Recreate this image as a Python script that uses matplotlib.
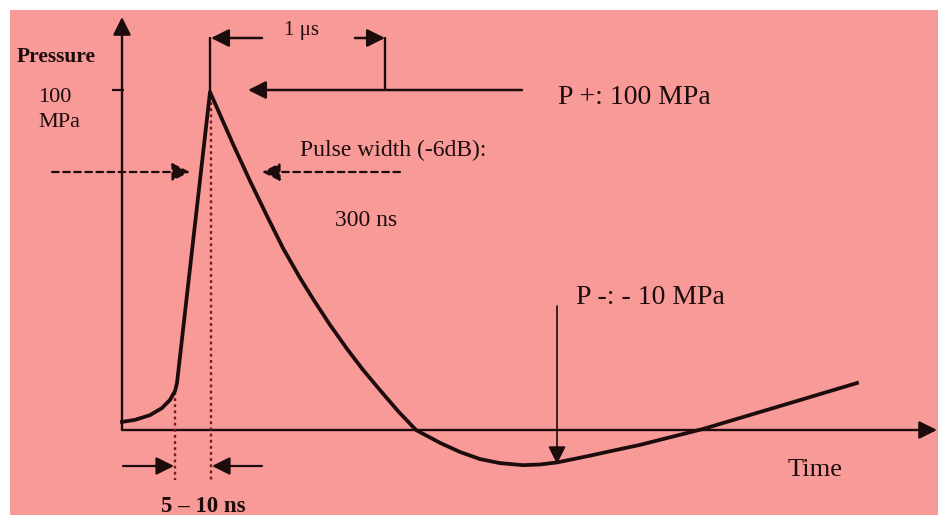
import matplotlib
matplotlib.use("Agg")
import matplotlib.pyplot as plt
from matplotlib.patches import Rectangle

# ---- data (time in arbitrary units, pressure in MPa) ----
time = [0, 13, 28, 40, 48, 53, 55, 88, 111, 128, 145, 161, 178, 191, 208,
        225, 241, 258, 276, 294, 318, 338, 358, 378, 401, 418, 435, 468, 488,
        518, 581, 648, 735]
pressure = [2.4, 3.0, 4.4, 6.5, 8.9, 11.5, 13.9, 100, 84.6, 73.7, 63.3, 53.8,
            45.0, 38.8, 31.1, 24.0, 17.8, 11.8, 5.6, 0.0, -3.8, -6.5, -8.6,
            -9.8, -10.4, -10.2, -9.6, -7.6, -6.3, -4.4, 0.3, 6.2, 13.9]
peak_label = "P +: 100 MPa"
neg_label = "P -: - 10 MPa"
ytick_label = "100\nMPa"

# pixel -> data helpers (layout only)
def X(px):
    return px - 122
def Y(py):
    return (430 - py) / 3.38

W, H = 938, 515
fig = plt.figure(figsize=(W / 100, H / 100), dpi=100, facecolor="white")
ax = fig.add_axes([0, 0, 1, 1])
ax.set_xlim(X(0), X(W))
ax.set_ylim(Y(H), Y(0))
ax.axis("off")
ax.add_patch(Rectangle((10 / W, 0), (W - 10) / W, (H - 10) / H,
                       transform=ax.transAxes, facecolor="#F89A98",
                       edgecolor="none", zorder=0))

ink = "#1c0c0c"
serif = ["Liberation Serif", "DejaVu Serif"]

def arrow(x0, y0, x1, y1, lw=1.6, ls="-", scale=18):
    ax.annotate("", xy=(X(x1), Y(y1)), xytext=(X(x0), Y(y0)),
                arrowprops=dict(arrowstyle="-|>,head_length=0.6,head_width=0.3",
                                color=ink, lw=lw, linestyle=ls,
                                shrinkA=0, shrinkB=0, mutation_scale=scale))

def line(xs, ys, lw=1.6, ls="-", color=ink):
    ax.plot([X(v) for v in xs], [Y(v) for v in ys], color=color, lw=lw,
            linestyle=ls, solid_capstyle="butt", zorder=3)

# axes
arrow(122, 430, 122, 17, lw=1.7)
arrow(122, 430, 937, 430, lw=1.7)
line([112, 124], [90, 90], lw=1.6)

# curve
ax.plot(time, pressure, color=ink, lw=2.7, solid_joinstyle="round", zorder=5)

# dotted guide lines
line([175, 175], [392, 480], lw=1.7, ls=(0, (1.2, 1.4)), color="#7a1a22")
line([211, 211], [96, 482], lw=1.7, ls=(0, (1.2, 1.4)), color="#7a1a22")

# 1 us bracket
line([210, 210], [37, 92], lw=1.7)
arrow(262, 38, 211, 38, lw=1.8)
arrow(355, 38, 385, 38, lw=1.8)
line([385, 385], [37, 90], lw=1.7)
arrow(522, 90, 248, 90, lw=1.8)

# pulse width dashed arrows
arrow(52, 172, 190, 172, ls=(0, (3, 2)))
arrow(400, 172, 262, 172, ls=(0, (3, 2)))

# rise time arrows
arrow(123, 466, 174, 466)
arrow(262, 466, 212, 466)

# P- arrow
arrow(557, 306, 557, 464, lw=1.2)

# texts
fs = 16.5
ax.text(X(17), Y(57), "Pressure", fontsize=fs - 1, family=serif, color=ink,
        ha="left", va="center", fontweight="bold")
ax.text(X(38), Y(110), ytick_label, fontsize=fs - 0.5, family=serif, color=ink,
        ha="left", va="center", linespacing=1.45)
ax.text(X(302), Y(30), "1 μs", fontsize=fs - 1.5, family=serif, color=ink,
        ha="center", va="center")
ax.text(X(300), Y(150), "Pulse width (-6dB):", fontsize=fs + 0.5, family=serif,
        color=ink, ha="left", va="center")
ax.text(X(335), Y(221), "300 ns", fontsize=fs + 0.5, family=serif, color=ink,
        ha="left", va="center")
ax.text(X(558), Y(97), peak_label, fontsize=20, family=serif, color=ink,
        ha="left", va="center")
ax.text(X(576), Y(298), neg_label, fontsize=20, family=serif, color=ink,
        ha="left", va="center")
ax.text(X(788), Y(470), "Time", fontsize=19, family=serif, color=ink,
        ha="left", va="center")
ax.text(X(203), Y(506), "5 – 10 ns", fontsize=fs, family=serif, color=ink,
        ha="center", va="center", fontweight="bold")

fig.savefig("out.png", dpi=100, facecolor="white")
